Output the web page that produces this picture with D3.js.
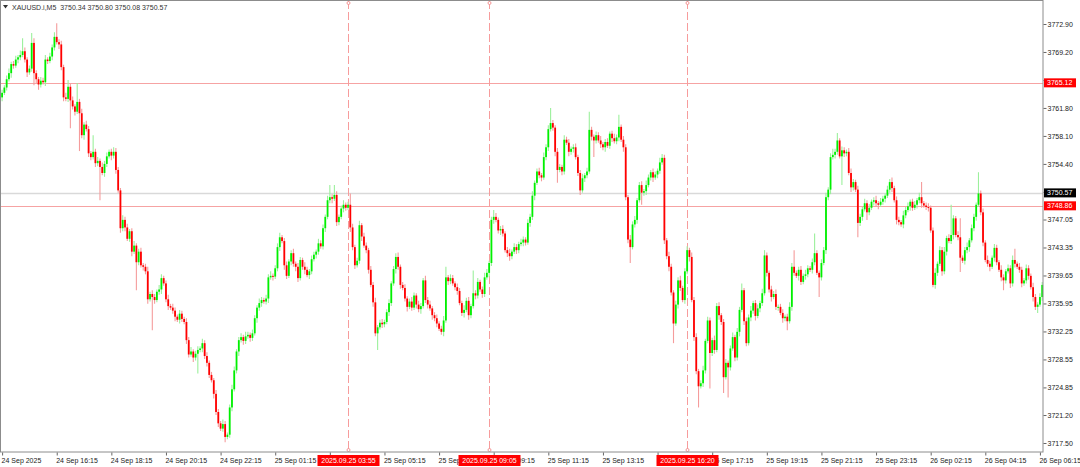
<!DOCTYPE html>
<html>
<head>
<meta charset="utf-8">
<script src="https://cdn.jsdelivr.net/npm/d3@7"></script>
<style>
  body { margin: 0; background: #fff; }
  svg { display: block; font-family: "Liberation Sans", Arial, sans-serif; }
</style>
</head>
<body>
<div id="chart"></div>
<script>
// XAUUSD M5 closes, 24 Sep 14:15 -> 26 Sep 06:20
var firstOpen = 3763.2;
var closes = [
  3763.8,3764.5,3765.6,3766.4,3767.6,3767.4,3768.2,3768.5,3768.8,3769.3,
  3768.2,3766.5,3767.0,3770.4,3766.4,3765.6,3764.9,3765.4,3765.2,3768.2,
  3768.0,3768.6,3769.8,3771.2,3770.5,3770.2,3767.2,3763.2,3763.0,3764.6,
  3762.8,3762.0,3761.3,3762.6,3761.1,3758.2,3759.6,3759.0,3755.8,3755.3,
  3756.0,3754.5,3754.8,3754.0,3753.2,3754.4,3755.4,3756.0,3755.5,3756.0,
  3753.6,3750.9,3745.9,3747.0,3746.0,3744.5,3745.5,3742.8,3743.6,3741.4,
  3742.8,3741.0,3740.8,3740.2,3736.5,3737.2,3736.8,3736.4,3737.5,3737.8,
  3739.3,3738.6,3736.5,3735.6,3735.4,3735.0,3734.2,3733.8,3734.6,3733.9,
  3733.5,3731.1,3729.2,3729.6,3728.8,3729.3,3729.8,3730.0,3730.7,3729.0,
  3728.1,3726.5,3725.8,3724.0,3721.6,3720.1,3719.4,3720.0,3718.3,3718.6,
  3722.2,3724.6,3727.1,3729.6,3731.1,3731.5,3731.0,3731.6,3731.8,3731.4,
  3732.0,3734.0,3735.4,3736.0,3736.4,3736.2,3736.6,3739.4,3739.6,3739.5,
  3740.6,3743.4,3744.7,3744.2,3741.0,3739.6,3741.5,3742.6,3741.2,3740.8,
  3739.3,3741.7,3740.8,3740.4,3739.7,3740.2,3741.8,3742.4,3742.8,3743.9,
  3743.5,3745.9,3747.4,3749.6,3750.0,3749.8,3750.3,3746.7,3747.4,3748.5,
  3749.0,3748.6,3749.0,3746.0,3743.4,3741.0,3741.6,3746.3,3744.8,3743.6,
  3743.0,3740.4,3738.4,3736.1,3732.0,3732.8,3733.4,3733.2,3733.5,3734.8,
  3736.0,3738.6,3740.5,3742.1,3740.8,3738.4,3738.0,3736.6,3735.5,3736.2,
  3735.4,3737.0,3735.8,3735.2,3735.6,3739.0,3736.4,3735.8,3735.3,3734.4,
  3734.0,3733.3,3732.6,3732.2,3733.7,3739.4,3738.9,3739.3,3738.6,3738.1,
  3737.6,3736.0,3734.7,3735.1,3736.3,3734.4,3735.6,3737.3,3737.0,3738.8,
  3737.8,3737.2,3739.4,3740.0,3741.3,3747.0,3747.4,3747.0,3745.6,3745.8,
  3745.2,3743.0,3742.6,3742.2,3742.8,3743.4,3743.0,3743.8,3744.0,3744.4,
  3744.0,3746.6,3747.4,3750.2,3751.9,3753.4,3752.9,3752.6,3755.3,3756.6,
  3759.0,3759.8,3759.2,3756.0,3753.6,3754.0,3753.4,3757.6,3757.2,3756.0,
  3756.4,3756.6,3755.3,3753.2,3750.9,3752.5,3752.9,3753.4,3758.9,3758.0,
  3757.5,3758.2,3757.5,3757.0,3756.6,3757.3,3756.8,3758.4,3757.8,3757.4,
  3757.9,3759.3,3757.6,3756.6,3750.0,3744.4,3743.4,3746.4,3747.0,3749.6,
  3751.6,3750.6,3750.8,3751.6,3752.6,3753.3,3752.6,3753.0,3753.5,3754.6,
  3755.2,3744.3,3742.2,3740.8,3737.4,3733.3,3735.8,3739.0,3738.0,3736.4,
  3740.2,3743.0,3742.1,3736.4,3731.5,3727.0,3725.0,3725.4,3727.1,3731.0,
  3733.7,3729.4,3731.1,3729.8,3735.6,3734.4,3733.5,3726.2,3728.1,3727.5,
  3730.0,3731.5,3728.8,3732.2,3735.1,3737.7,3733.6,3730.7,3734.1,3735.0,
  3736.0,3734.3,3735.3,3736.0,3737.3,3742.3,3740.0,3737.8,3736.8,3737.2,
  3735.5,3735.5,3734.7,3734.0,3734.2,3733.6,3735.5,3740.8,3740.0,3739.6,
  3740.4,3738.8,3739.6,3739.8,3740.6,3740.4,3741.4,3742.6,3740.0,3739.4,
  3741.3,3743.0,3750.0,3751.0,3755.3,3755.6,3756.0,3757.5,3755.4,3756.2,
  3755.8,3756.0,3753.2,3751.3,3752.0,3751.0,3746.6,3747.4,3748.4,3749.2,
  3748.0,3748.6,3749.4,3749.6,3749.2,3749.0,3749.4,3749.8,3750.2,3751.0,
  3752.0,3751.2,3749.6,3747.0,3746.7,3746.4,3747.6,3748.3,3748.8,3749.4,
  3748.6,3749.0,3749.6,3750.0,3749.2,3748.9,3748.7,3748.6,3745.6,3738.4,
  3740.0,3741.2,3743.0,3740.2,3742.8,3744.6,3744.2,3745.0,3747.2,3745.0,
  3744.7,3742.0,3741.6,3743.0,3743.4,3744.3,3745.9,3747.4,3749.0,3750.5,
  3748.0,3744.0,3741.7,3741.2,3740.8,3742.0,3743.3,3741.4,3740.4,3739.4,
  3739.0,3740.2,3740.6,3738.6,3741.7,3741.2,3740.8,3740.4,3738.6,3739.0,
  3740.6,3739.6,3738.1,3736.8,3735.5,3735.8,3736.8,3738.4
];
// wick length above the body top / below the body bottom
var upWick = [
  .4,.3,.5,.6,.3,.4,.5,.3,.6,1.7, .5,.3,.4,1.3,.6,.4,.3,.5,.4,.6,
  .3,.5,.4,.6,1.8,.4,.5,.3,.6,.9, .4,.5,.3,2.5,.4,.6,.3,.5,.4,.3,
  2.2,.4,.5,.3,.6,.4,.5,.3,.4,.6, .5,.4,.3,.6,.4,.5,.3,.4,.6,.3,
  .4,.5,.3,.4,.6,.3,.5,.4,.3,.6, .5,.3,.4,.6,.3,.5,.4,.3,.5,.4,
  .3,.5,.4,.6,.3,.4,.5,.3,.6,.4, .5,.3,.4,.3,.5,.4,.3,.6,.4,.3,
  .4,.6,.5,.3,.4,.5,.3,.6,.4,.3, .5,.4,.3,.6,.4,.3,.5,.4,.6,.3,
  .4,.5,.6,.3,.4,.5,.3,.4,.6,.3, .5,.4,.3,.6,.4,.3,.5,.4,.3,.6,
  .4,.5,.3,.6,1.6,.4,1.3,.5,.3,.4, .6,.3,.4,1.5,.5,.3,.4,.6,.3,.5,
  .4,.3,.5,.4,.6,.3,.4,.5,.3,.4, .5,.3,.4,.5,.6,.3,.4,.5,.3,.4,
  .6,.4,.3,.5,.4,.3,.6,.4,.5,.3, .4,.5,.3,.4,.6,1.4,.3,.5,.4,.3,
  .5,.4,.3,.6,.4,.5,.3,3.0,.4,.5, .3,.4,.6,.5,.3,.4,.9,.5,.3,.4,
  .5,.3,.4,.6,.3,.5,.4,.3,.5,.4, .3,.5,.4,.6,.3,.4,.5,.3,.6,.4,
  .5,2.0,.4,.3,.5,.4,.3,.6,.4,.5, .3,.4,.5,.3,.4,.6,.3,.5,2.4,.4,
  .3,.5,.4,.6,.3,.4,.5,.3,.4,.6, .4,1.6,.3,.5,.4,.3,.6,.4,.5,.3,
  .4,.5,.3,.6,.4,.3,.5,.4,.3,.6, .5,.4,.3,.6,.4,.3,.5,.4,.6,.3,
  .4,.5,.3,.6,.4,.5,.3,.4,.6,.3, .5,.4,.3,.6,.4,.5,.3,.4,.5,.3,
  .4,.6,.3,.5,.4,.9,.3,.5,.4,.6, .3,.4,.5,.3,.6,.7,.4,.3,.5,.4,
  .6,.3,.4,.5,.3,.4,.6,.5,2.2,.3, .4,.5,.3,.6,.4,.3,.5,2.6,.4,.3,
  .5,.4,.6,.3,.5,.8,.4,1.0,.3,.5, .4,.3,.5,.6,.4,.3,.5,.4,.3,.6,
  .4,.5,.3,.4,.6,.3,.5,.4,.3,.5, .4,.6,.3,.5,.4,.3,.6,.4,.5,.3,
  .4,.5,.3,.6,2.0,.3,.4,.5,.3,.4, .6,.3,.5,.4,.6,.3,.5,4.0,.4,.3,
  .5,2.5,.3,.4,.6,.3,.5,.4,.3,2.8, .4,.5,.3,.6,.4,.3,.5,.4,.3,.6,
  .4,.3,.5,.4,.6,1.5,.3,.5,.4,.3, .5,.4,.3,.6,.4,.3,.5,.4
];
var downWick = [
  .5,.3,.4,.3,.6,.4,.3,.5,.4,.3, .4,.6,.3,.4,1.6,.5,.7,.4,.3,.5,
  .4,.3,.5,.4,.3,.6,.4,.5,.3,.4, 3.7,.4,.5,.3,5.0,.4,.6,.3,.5,.4,
  .3,.5,.4,4.4,.3,.5,.4,.3,.6,.4, .5,.3,.6,.4,.5,.3,.4,.6,.3,3.7,
  .4,.3,.5,.4,.6,.3,4.4,.5,.3,.4, .6,.3,.4,.5,.3,.4,.6,.3,.5,.4,
  .3,.5,.4,.3,.6,.4,2.6,.3,.5,.4, .5,.4,.3,.6,.4,.5,.3,.4,.7,.3,
  .4,.5,.3,.4,.6,.3,.5,.4,.3,.5, .4,.3,.6,.4,.5,.3,.4,.6,.3,.5,
  .3,.4,.5,.3,.6,.4,.3,.5,.4,.6, .5,.3,.4,.6,.3,.5,.4,.3,.5,.4,
  .3,.4,.5,.3,.4,.6,.3,.5,.4,.3, .5,.4,.3,.6,.4,.5,.3,.4,.6,.3,
  .4,.5,.3,.6,.4,2.2,.3,.5,.4,.3, .5,.4,.3,.6,.4,.5,.3,.4,.6,.3,
  .4,.3,.5,.4,.6,.3,.4,.5,.3,.6, .4,.5,.3,.4,.6,.3,.5,.4,.3,.4,
  .5,.3,.4,.6,.3,.6,.4,.3,.5,.4, .3,.5,.4,.3,.6,.4,.5,.3,.4,.6,
  .4,.3,.5,.6,.4,.3,.5,.4,.3,.5, .4,.3,.5,.4,.6,.3,.4,.5,.3,.4,
  .5,.3,.4,.6,1.7,.3,.5,.4,.3,.6, .4,.5,.3,.4,.6,.3,.5,.4,.3,.5,
  2.2,.4,.3,.5,.4,.6,.3,.4,.5,.3, .4,.5,.3,.6,.4,.5,2.1,.3,.4,.5,
  .3,1.6,.4,.5,.3,.4,.6,.3,.5,.4, .3,.5,.4,.6,.4,2.6,.3,.5,.4,.3,
  .5,.4,.6,.3,.5,.4,2.8,.3,.5,.4, .3,4.7,.4,.5,.3,.6,.4,2.1,.3,4.0,
  .4,.3,.5,.4,.6,.3,.5,.4,.3,.5, .4,.6,.3,.5,.4,.3,.5,.4,.6,.3,
  .4,.5,.3,.6,.4,1.2,.3,.5,.4,.3, .6,.4,.3,.5,.4,.3,.5,.4,.3,2.6,
  .4,.3,.5,.4,.6,.3,.5,.4,.3,3.8, .5,.4,.3,.6,.4,.3,1.9,.4,.5,.3,
  1.0,.4,.3,.5,.4,.6,.3,.4,.5,.3, .4,.5,.3,.6,.4,.3,.5,.4,.3,.6,
  .4,.3,.5,.4,.6,.3,.4,.5,.3,.3, .5,.4,.3,.6,.4,.5,.3,.4,.6,.3,
  .4,1.9,.3,.5,.4,.6,.3,.4,.5,.3, .4,.5,.3,.4,.6,.3,.5,.4,.3,.5,
  1.3,.4,.3,.6,.4,.5,.3,.4,.5,.3, .4,.5,.3,.6,.4,.8,.3,.5
];

var priceTicks = [3772.90,3769.20,3765.50,3761.80,3758.10,3754.40,3750.70,3747.05,
                  3743.35,3739.65,3735.95,3732.25,3728.55,3724.85,3721.20,3717.50];
var timeIdx = [0,24,48,72,96,120,144,168,192,216,240,264,288,312,336,360,384,408,432,456];
var timeLabels = ["24 Sep 2025","24 Sep 16:15","24 Sep 18:15","24 Sep 20:15","24 Sep 22:15",
                  "25 Sep 01:15","25 Sep 03:15","25 Sep 05:15","25 Sep 07:15","25 Sep 09:15",
                  "25 Sep 11:15","25 Sep 13:15","25 Sep 15:15","25 Sep 17:15","25 Sep 19:15",
                  "25 Sep 21:15","25 Sep 23:15","26 Sep 02:15","26 Sep 04:15","26 Sep 06:15"];
var vlineIdx = [152, 214, 301];
var vlineText = ["2025.09.25 03:55","2025.09.25 09:05","2025.09.25 16:20"];
var hlinePrices = [3765.12, 3748.86];
var bidPrice = 3750.57;
var headerText = "XAUUSD.i,M5  3750.34 3750.80 3750.08 3750.57";

var W = 1080, H = 467;
var plotR = 1043, plotB = 452;

var svg = d3.select("#chart").append("svg")
    .attr("width", W).attr("height", H);
svg.append("rect").attr("width", W).attr("height", H).attr("fill", "#fff");

var x = d3.scaleLinear().domain([0, closes.length - 1]).range([2.1, 1042.2]);
var y = d3.scaleLinear().domain([3717.50, 3772.90]).range([443, 24]);

var bars = closes.map(function (c, i) {
    var o = i === 0 ? firstOpen : closes[i - 1];
    return {i: i, o: o, c: c,
        h: Math.max(o, c) + upWick[i],
        l: Math.min(o, c) - downWick[i]};
});

// horizontal lines
svg.selectAll(".hl").data(hlinePrices).enter().append("line")
    .attr("x1", 1).attr("x2", plotR)
    .attr("y1", function (d) { return Math.round(y(d)) + 0.5; })
    .attr("y2", function (d) { return Math.round(y(d)) + 0.5; })
    .attr("stroke", "#f6a3a3").attr("stroke-width", 1);
svg.append("line")
    .attr("x1", 1).attr("x2", plotR)
    .attr("y1", Math.round(y(bidPrice)) + 0.5).attr("y2", Math.round(y(bidPrice)) + 0.5)
    .attr("stroke", "#d9d9d9").attr("stroke-width", 1.6);

// vertical dashed lines
svg.selectAll(".vl").data(vlineIdx).enter().append("line")
    .attr("x1", function (d) { return Math.round(x(d)) + 0.5; })
    .attr("x2", function (d) { return Math.round(x(d)) + 0.5; })
    .attr("y1", 1).attr("y2", plotB)
    .attr("stroke", "#f79c9c").attr("stroke-width", 1)
    .attr("stroke-dasharray", "8,3");
vlineIdx.forEach(function (d) {
    [3, plotB - 2].forEach(function (yy) {
        svg.append("circle").attr("cx", Math.round(x(d)) + 0.5).attr("cy", yy)
            .attr("r", 1.5).attr("fill", "#fff").attr("stroke", "#f08080").attr("stroke-width", 0.8);
    });
});

// candles
var cg = svg.append("g");
cg.selectAll(".wick").data(bars).enter().append("line")
    .attr("x1", function (d) { return x(d.i); })
    .attr("x2", function (d) { return x(d.i); })
    .attr("y1", function (d) { return y(d.h); })
    .attr("y2", function (d) { return y(d.l); })
    .attr("stroke", function (d) { return d.c >= d.o ? "#9cf09c" : "#f59c9c"; })
    .attr("stroke-width", 1.1);
cg.selectAll(".body").data(bars).enter().append("rect")
    .attr("x", function (d) { return x(d.i) - 0.9; })
    .attr("width", 1.8)
    .attr("y", function (d) { return y(Math.max(d.o, d.c)); })
    .attr("height", function (d) { return Math.max(1, Math.abs(y(d.o) - y(d.c))); })
    .attr("fill", function (d) { return d.c >= d.o ? "#00f000" : "#ff0000"; });

// frame
svg.append("rect").attr("x", 0.5).attr("y", 0.5)
    .attr("width", plotR - 0.5).attr("height", plotB - 0.5)
    .attr("fill", "none").attr("stroke", "#8c8c8c").attr("stroke-width", 1);

// tags that cover axis labels
var priceTags = hlinePrices.concat([bidPrice]);
function coveredPrice(p) {
    return priceTags.some(function (t) { return Math.abs(y(t) - y(p)) < 6; });
}
function coveredTime(idx) {
    var tx = x(idx);
    return vlineIdx.some(function (v) {
        var cx = x(v);
        return tx >= cx - 32 && tx + 38 <= cx + 32;
    });
}

// right price axis
var yAxis = d3.axisRight(y).tickValues(priceTicks).tickSize(3).tickPadding(1)
    .tickFormat(function (d) { return coveredPrice(d) ? "" : d3.format(".2f")(d); });
var ya = svg.append("g").attr("transform", "translate(" + (plotR + 0.5) + ",0)").call(yAxis);
ya.select(".domain").remove();
ya.selectAll("line").attr("stroke", "#666");
ya.selectAll("text").attr("font-size", 7).attr("fill", "#222")
    .attr("font-family", "Liberation Sans, Arial, sans-serif");

// bottom time axis
var xAxis = d3.axisBottom(x).tickValues(timeIdx).tickSize(3)
    .tickFormat(function (d, i) { return coveredTime(d) ? "" : timeLabels[i]; });
var xa = svg.append("g").attr("transform", "translate(0," + (plotB + 0.5) + ")").call(xAxis);
xa.select(".domain").remove();
xa.selectAll("line").attr("stroke", "#666");
xa.selectAll("text").attr("font-size", 7).attr("fill", "#222")
    .attr("text-anchor", "start").attr("dx", -1).attr("dy", "0.62em")
    .attr("font-family", "Liberation Sans, Arial, sans-serif");

// price tags on the right
function priceTag(p, bg) {
    var yy = y(p);
    svg.append("rect").attr("x", plotR + 1).attr("y", yy - 4.5)
        .attr("width", 32).attr("height", 9).attr("fill", bg);
    svg.append("text").attr("x", plotR + 4).attr("y", yy + 2.6)
        .attr("font-size", 7).attr("fill", "#fff").text(d3.format(".2f")(p));
}
hlinePrices.forEach(function (p) { priceTag(p, "#ff0000"); });
priceTag(bidPrice, "#000");

// time tags at the bottom
vlineIdx.forEach(function (d, i) {
    var cx = Math.round(x(d)) + 0.5;
    svg.append("rect").attr("x", cx - 31).attr("y", 455)
        .attr("width", 62).attr("height", 11).attr("fill", "#ff0000");
    svg.append("text").attr("x", cx).attr("y", 463.3).attr("text-anchor", "middle")
        .attr("font-size", 7).attr("fill", "#fff").text(vlineText[i]);
});

// header
svg.append("path").attr("d", "M3,5 L8,5 L5.5,8.5 Z").attr("fill", "#333");
svg.append("text").attr("x", 12).attr("y", 9.5).attr("font-size", 7).attr("fill", "#333")
    .attr("xml:space", "preserve").style("white-space", "pre").text(headerText);
</script>
</body>
</html>
